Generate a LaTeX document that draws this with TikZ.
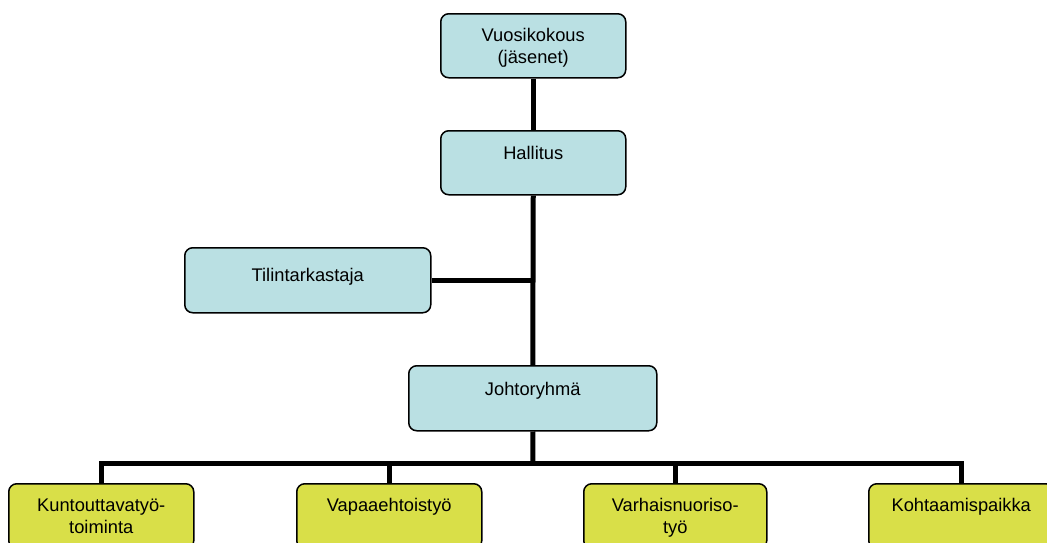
\documentclass[tikz,border=0pt]{standalone}
\usepackage{fontspec}
\setmainfont{Liberation Sans}
\definecolor{boxblue}{RGB}{186,224,227}
\definecolor{boxyellow}{RGB}{217,223,72}
\begin{document}
\begin{tikzpicture}[x=1pt,y=-1pt,
  box/.style={draw=black, line width=1.5pt, rounded corners=8pt,
    inner xsep=0pt, inner ysep=0pt, align=center, anchor=north west,
    font=\fontsize{18.3}{22}\selectfont},
  bluebox/.style={box, fill=boxblue},
  yellowbox/.style={box, fill=boxyellow, text height=28pt, text depth=37pt},
  twoline/.style={text height=50pt, text depth=15pt},
  conn/.style={line width=5pt}]
\useasboundingbox (0,0) rectangle (1047,542);
\clip (0,0) rectangle (1047,542);

\coordinate (bus) at (533,463);

\node[bluebox, minimum width=185pt, text height=50pt, text depth=14pt] (V) at (440,13) {Vuosikokous\\(jäsenet)};
\node[bluebox, minimum width=185pt, text height=29pt, text depth=35pt] (H) at (440,130) {Hallitus};
\node[bluebox, minimum width=246pt, text height=34pt, text depth=31pt] (T) at (184,247) {Tilintarkastaja};
\node[bluebox, minimum width=248pt, text height=30pt, text depth=35pt] (J) at (408,365) {Johtoryhmä};

\node[yellowbox, twoline, minimum width=185pt] (K) at (8,483) {Kuntouttavatyö{\char"2D}\\toiminta};
\node[yellowbox, minimum width=185pt] (VA) at (296,483) {Vapaaehtoistyö};
\node[yellowbox, twoline, minimum width=183pt] (VN) at (583,483) {Varhaisnuoriso{\char"2D}\\työ};
\node[yellowbox, minimum width=185pt] (KO) at (868,483) {Kohtaamispaikka};

\draw[conn] (V.south) -- (H.north);
\draw[conn] (H.south) -- (J.north);
\draw[conn] (T.east) -- (T.east -| H.south);
\draw[conn] (J.south) -- (bus);
\draw[conn] (K.north) |- (bus) -| (KO.north);
\draw[conn] (VA.north) -- (VA.north |- bus);
\draw[conn] (VN.north) -- (VN.north |- bus);
\end{tikzpicture}
\end{document}
